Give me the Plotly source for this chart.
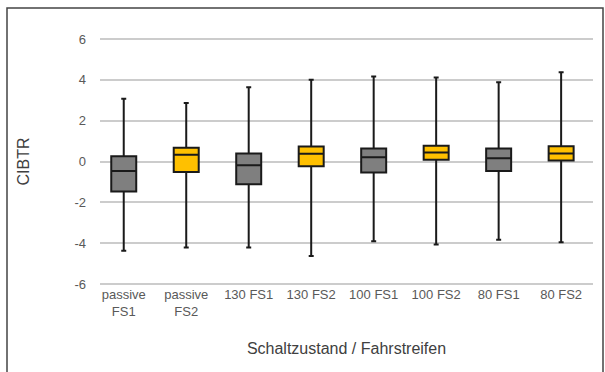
import plotly.graph_objects as go

categories = ["passive<br>FS1", "passive<br>FS2", "130 FS1", "130 FS2", "100 FS1", "100 FS2", "80 FS1", "80 FS2"]
lower = [-4.37, -4.21, -4.21, -4.63, -3.91, -4.06, -3.83, -3.95]
q1 = [-1.47, -0.51, -1.11, -0.23, -0.54, 0.08, -0.46, 0.05]
median = [-0.47, 0.33, -0.18, 0.375, 0.21, 0.44, 0.16, 0.39]
q3 = [0.26, 0.67, 0.39, 0.73, 0.64, 0.77, 0.64, 0.75]
upper = [3.07, 2.87, 3.64, 4.01, 4.17, 4.11, 3.88, 4.37]
colors = ["#7f7f7f", "#ffc000", "#7f7f7f", "#ffc000", "#7f7f7f", "#ffc000", "#7f7f7f", "#ffc000"]
y_ticks = [-6, -4, -2, 0, 2, 4, 6]

fig = go.Figure()
for i, c in enumerate(categories):
    fig.add_trace(go.Box(
        x=[c], q1=[q1[i]], median=[median[i]], q3=[q3[i]],
        lowerfence=[lower[i]], upperfence=[upper[i]],
        fillcolor=colors[i], line=dict(color="#1a1a1a", width=2),
        width=0.4, whiskerwidth=0.2, boxpoints=False, showlegend=False,
        hoverinfo="skip",
    ))

fig.update_layout(
    template="none",
    width=605, height=372,
    margin=dict(l=100, r=12, t=38, b=87),
    paper_bgcolor="white", plot_bgcolor="white",
    font=dict(family="Liberation Sans, Arial, sans-serif", size=13, color="#595959"),
    boxmode="overlay",
    xaxis=dict(
        categoryorder="array", categoryarray=categories, automargin=False,
        range=[-0.38, 7.51],
        showgrid=False, showline=False, zeroline=False,
        ticks="", tickfont=dict(size=13, color="#595959"),
        title=dict(text="Schaltzustand / Fahrstreifen", font=dict(size=16, color="#404040"), standoff=24),
    ),
    yaxis=dict(
        range=[-6.05, 6.05], tickvals=y_ticks, ticktext=[str(v) for v in y_ticks],
        automargin=False,
        showgrid=True, gridcolor="#cccccc", gridwidth=2,
        zeroline=True, zerolinecolor="#cccccc", zerolinewidth=2,
        showline=False, ticks="", ticklabelstandoff=13,
        tickfont=dict(size=13, color="#595959"),
        title=dict(text="CIBTR", font=dict(size=16, color="#404040"), standoff=40),
    ),
    shapes=[dict(type="rect", xref="paper", yref="paper",
                 x0=-93/493, x1=(493 + 10)/493, y0=-0.5, y1=(247 + 30)/247,
                 line=dict(color="#444444", width=1.5), fillcolor="rgba(0,0,0,0)", layer="above")],
)

fig.write_html("out.html", config={"displayModeBar": False},
               post_script="document.body.style.margin='0';document.body.style.overflow='hidden';")
